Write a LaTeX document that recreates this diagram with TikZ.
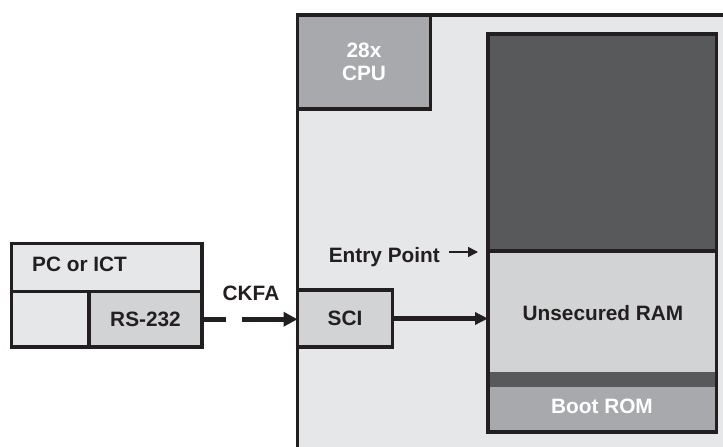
\documentclass[tikz,border=0pt]{standalone}
\usepackage{fontspec}
\setmainfont{Liberation Sans}
\usetikzlibrary{arrows.meta}
\definecolor{lightg}{HTML}{E6E7E8}
\definecolor{midg}{HTML}{D1D3D4}
\definecolor{grayg}{HTML}{A7A9AC}
\definecolor{darkg}{HTML}{58595B}
\definecolor{ink}{HTML}{231F20}
\begin{document}
\begin{tikzpicture}[x=1pt,y=-1pt,
  box/.style={draw=ink,line width=3.3pt,rectangle,inner sep=0pt,outer sep=0pt},
  plain/.style={rectangle,inner sep=0pt,outer sep=0pt,anchor=north west},
  lbl/.style={font=\fontsize{20.8}{23}\selectfont\bfseries,text=ink,inner sep=0pt,align=center},
  wlbl/.style={lbl,text=white},
  fat/.style={draw=ink,line width=4.5pt},
]
\useasboundingbox (0,0) rectangle (723,447);
\clip (0,0) rectangle (723,447);
% chip
\node[box,fill=lightg,minimum width=460pt,minimum height=460pt,anchor=north west] (chip) at (297.5,15) {};
\node[box,fill=grayg,minimum width=133pt,minimum height=94pt,wlbl] (cpu) at (364,62) {28x\\CPU};
% memory column
\node[plain,fill=darkg,minimum width=228.5pt,minimum height=217pt] (secure) at (488,34) {};
\node[plain,fill=midg,minimum width=228.5pt,minimum height=121pt] (ram) at (488,251) {};
\node[plain,fill=darkg,minimum width=228.5pt,minimum height=15pt] (band) at (488,372) {};
\node[plain,fill=grayg,minimum width=228.5pt,minimum height=45pt] (boot) at (488,387) {};
\node[box,anchor=north west,minimum width=228.5pt,minimum height=398pt] (mem) at (488,34) {};
\draw[ink,line width=3.3pt] (secure.south west) -- (secure.south east);
\node[lbl] (ramlbl) at (603,313) {Unsecured RAM};
\node[wlbl] (bootlbl) at (602,406) {Boot ROM};
% entry point
\node[lbl,anchor=base east] (entry) at (440,262) {Entry Point};
\coordinate (eptip) at (478,252);
\draw[ink,line width=1.5pt,-{Triangle[length=10pt,width=10pt]}] ([xshift=9pt]entry.east |- eptip) -- (eptip);
% SCI
\node[box,fill=midg,minimum width=95pt,minimum height=57pt,lbl] (sci) at (345,318.5) {SCI};
\draw[fat,-{Triangle[length=13pt,width=12pt]}] (sci.east) -- (sci.east -| mem.west);
% PC
\node[box,plain,draw=ink,fill=lightg,minimum width=190.5pt,minimum height=48pt] (pctop) at (11.5,243.5) {};
\node[box,plain,draw=ink,fill=lightg,minimum width=77.5pt,minimum height=55.5pt] (pcleft) at (11.5,291.5) {};
\node[box,plain,draw=ink,fill=midg,minimum width=113pt,minimum height=55.5pt] (rs) at (89,291.5) {};
\node[lbl,anchor=west] (pclbl) at (32,264.5) {PC or ICT};
\node[lbl] (rslbl) at (rs.center) {RS-232};
% CKFA link
\draw[fat,dash pattern=on 24pt off 16pt on 300pt,-{Triangle[length=14pt,width=14pt]}] (rs.east) -- (rs.east -| sci.west);
\node[lbl] (ckfa) at (251,293.5) {CKFA};
\end{tikzpicture}
\end{document}
